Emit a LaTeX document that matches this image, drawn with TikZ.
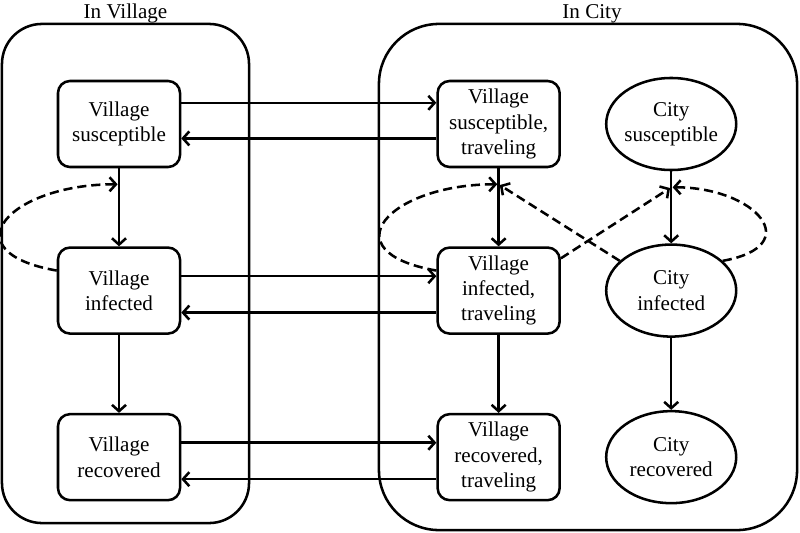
\documentclass[tikz,border=0pt]{standalone}
\usepackage{fontspec}
\setmainfont{Liberation Serif}
\usetikzlibrary{arrows,arrows.meta,positioning,shapes}

\begin{document}
\begin{tikzpicture}[x=0.025cm, y=-0.025cm, node distance=1.95cm,
	font=\fontsize{15}{18}\selectfont, line width=1.8pt,
	>={Straight Barb[length=4.5pt,width=10pt]}]
	\tikzstyle{area}
	  =[draw, rectangle, rounded corners=1cm, inner sep=0pt]
	\tikzstyle{box}
	  =[draw, rectangle, rounded corners=0.3cm, minimum width=3.05cm,
	  minimum height=2.15cm, inner sep=1pt, align=center]
	\tikzstyle{city}
	  =[draw, ellipse, minimum width=3.25cm, minimum height=2.3cm,
	  inner xsep=-4pt, inner ysep=0pt, align=center]
	\tikzstyle{move}
	  =[->, dashed, dash pattern=on 6.5pt off 3.5pt, shorten >=1pt]

	\useasboundingbox (0,0) rectangle (800,532);

	\node[area, minimum width=6.175cm, minimum height=12.475cm] (village)
	  at (125.5,273.5) {};
	\node[inner sep=1pt] (villagetitle)
	  [above=-2pt of village] {In Village};
	\node[area, rounded corners=1.5cm, minimum width=10.45cm,
	minimum height=12.65cm] (town)
	  at (588,277) {};
	\node[inner sep=1pt] (towntitle)
	  [above=-2pt of town, xshift=0.1cm] {In City};

	\node[box] (vs) at (119,124) {Village\\susceptible};
	\node[box] (vi)
	  [below=of vs] {Village\\infected};
	\node[box] (vr)
	  [below=of vi] {Village\\recovered};

	\node[box] (vst)
	  [right=6.375cm of vs] {Village\\susceptible,\\traveling};
	\node[box] (vit)
	  [right=6.375cm of vi] {Village\\infected,\\traveling};
	\node[box] (vrt)
	  [right=6.375cm of vr] {Village\\recovered,\\traveling};

	\node[city] (cs)
	  [right=1.1cm of vst] {City\\susceptible};
	\node[city] (ci)
	  [right=1.1cm of vit] {City\\infected};
	\node[city] (cr)
	  [right=1.1cm of vrt] {City\\recovered};

	\coordinate[below=0.4cm of vs] (vsin);
	\coordinate[below=0.4cm of vst] (vstin);
	\coordinate[below=0.4cm of cs] (csin);

	% going to the city and back
	\draw[->] ([yshift=0.53cm]vs.east)--([yshift=0.53cm]vst.west);
	\draw[<-] ([yshift=-0.36cm]vs.east)--([yshift=-0.36cm]vst.west);
	\draw[->] ([yshift=0.36cm]vi.east)--([yshift=0.36cm]vit.west);
	\draw[<-] ([yshift=-0.55cm]vi.east)--([yshift=-0.55cm]vit.west);
	\draw[->] ([yshift=0.36cm]vr.east)--([yshift=0.36cm]vrt.west);
	\draw[<-] ([yshift=-0.55cm]vr.east)--([yshift=-0.55cm]vrt.west);

	\draw[->] (vs)--(vi);
	\draw[->] (vi)--(vr);
	\draw[->] (vst)--(vit);
	\draw[->] (vit)--(vrt);
	\draw[->] (cs)--(ci);
	\draw[->] (ci)--(cr);

	% infection
	\draw[move] ([yshift=0.5cm]vi.west)
	  .. controls +(-108,-19) and +(-110,0) .. (vsin);
	\draw[move] ([yshift=0.5cm]vit.west)
	  .. controls +(-108,-19) and +(-110,0) .. (vstin);
	\draw[move] ([yshift=-0.3cm]vit.north east)--(csin);
	\draw[move] (ci.150)--(vstin);
	\draw[move] (ci.30)
	  .. controls +(84,-15) and +(85,0) .. (csin);
\end{tikzpicture}
\end{document}
